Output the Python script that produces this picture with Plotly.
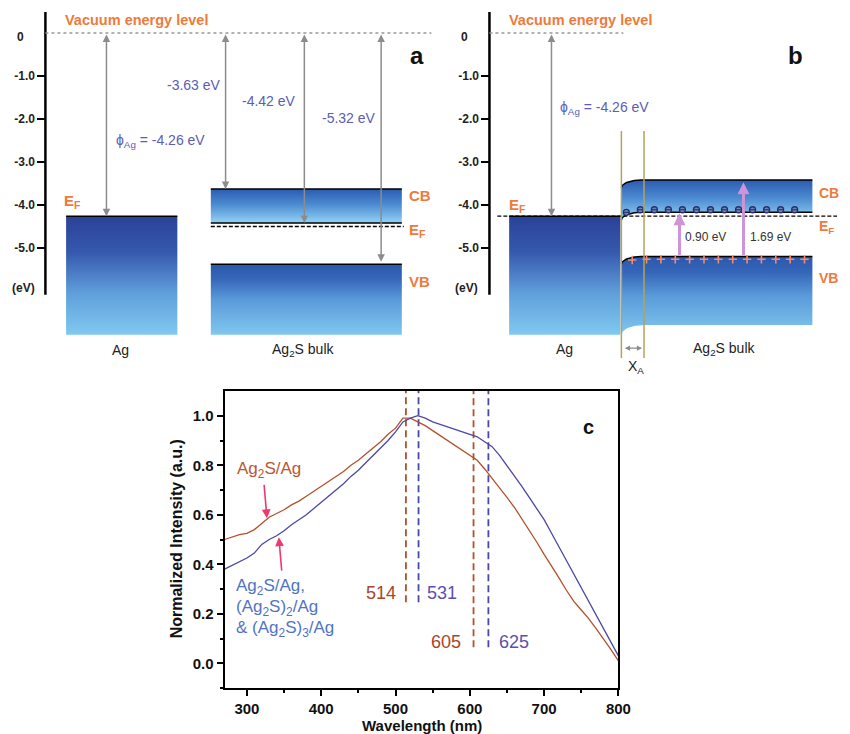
import numpy as np
import plotly.graph_objects as go

# the page body has an 8px margin: the figure is sized to fill the rest of the window
PAGE_OFF = 8
W, H = 850 - PAGE_OFF, 734 - PAGE_OFF
FONT = "Liberation Sans, Arial, Helvetica, sans-serif"

# ---------------- data ----------------
# panel a : energies (eV) relative to the vacuum level
vacuum_level = 0.0
ag_work_function = -4.26
ag2s_cb = -3.63
ag2s_ef = -4.42
ag2s_vb = -5.32
level_labels_a = ["-3.63 eV", "-4.42 eV", "-5.32 eV"]
energy_ticks = [-1.0, -2.0, -3.0, -4.0, -5.0]
energy_tick_text = ["-1.0", "-2.0", "-3.0", "-4.0", "-5.0"]

# panel b : Ag2S band edges after contact with Ag (as drawn)
ag2s_cb_top_b = -3.42
ag2s_cb_edge_b = -4.17
ag2s_vb_edge_b = -5.20
ag2s_bottom_b = -6.79
band_bending = 0.18
gap_labels_b = ["0.90 eV", "1.69 eV"]
gap_arrow_tops_b = [-4.19, -3.47]

# panel c : normalized emission spectra
wavelength = [270, 280, 290, 300, 310, 320, 330, 340, 350, 360, 370, 380, 390,
              400, 410, 420, 430, 440, 450, 460, 470, 480, 490, 500, 510, 520,
              530, 540, 550, 560, 570, 580, 590, 600, 610, 620, 630, 640, 650,
              660, 670, 680, 690, 700, 710, 720, 730, 740, 750, 760, 770, 780,
              790, 800]
ag2s_ag = [0.50, 0.51, 0.52, 0.525, 0.54, 0.565, 0.59, 0.605, 0.62, 0.64,
           0.655, 0.675, 0.695, 0.715, 0.735, 0.755, 0.775, 0.80, 0.82, 0.845,
           0.87, 0.895, 0.925, 0.95, 0.99, 0.99, 0.975, 0.96, 0.94, 0.92,
           0.90, 0.88, 0.86, 0.84, 0.82, 0.785, 0.745, 0.71, 0.67, 0.63,
           0.585, 0.54, 0.49, 0.44, 0.395, 0.345, 0.295, 0.25, 0.215, 0.18,
           0.14, 0.10, 0.055, 0.01]
ag2s_multi = [0.38, 0.395, 0.41, 0.425, 0.445, 0.48, 0.50, 0.515, 0.535, 0.56,
              0.58, 0.60, 0.625, 0.65, 0.675, 0.70, 0.725, 0.755, 0.78, 0.81,
              0.84, 0.87, 0.90, 0.935, 0.975, 0.99, 1.0, 0.99, 0.975, 0.965,
              0.955, 0.945, 0.935, 0.925, 0.915, 0.895, 0.875, 0.84, 0.80, 0.76,
              0.715, 0.67, 0.625, 0.58, 0.525, 0.47, 0.415, 0.36, 0.305, 0.25,
              0.195, 0.14, 0.085, 0.03]
peaks_single = [514, 605]
peaks_multi = [531, 625]
x_ticks_c = [300, 400, 500, 600, 700, 800]

# ---------------- colours ----------------
ORANGE_TXT = "#ee7a3c"
BLUE_TXT = "#5a5db6"
C_SINGLE = "#b4502c"
C_MULTI = "#4b47a6"
GRAY = "#8c8c8c"
PINK = "#ec3a6e"

AG_SCALE = [[0, "#80c9ef"], [0.35, "#609fdb"], [0.7, "#3558ad"], [1, "#2a4298"]]
CB_SCALE = [[0, "#93d3f5"], [0.55, "#4c8bd0"], [1, "#2c5bb1"]]
VB_SCALE = [[0, "#80c8ee"], [0.5, "#5a9ada"], [0.8, "#3566b8"], [1, "#2c58ad"]]


def px(x):
    return (x - PAGE_OFF) / W


def py(y):
    return 1 - (y - PAGE_OFF) / H


# energy axis geometry (panels a & b share it): 0 eV at 33px, 43 px per eV
def energy_at(ypix):
    return -(ypix - 33) / 43


E_TOP = energy_at(PAGE_OFF)
E_BOT = energy_at(372)
BLOCK_BOTTOM = -7.02

fig = go.Figure()


def block(xs, ys, scale):
    fig.add_trace(go.Scatter(x=list(xs), y=list(ys), mode="lines", fill="toself",
                             line=dict(width=0, color="rgba(0,0,0,0)"),
                             fillgradient=dict(type="vertical", colorscale=scale),
                             hoverinfo="skip", showlegend=False,
                             xaxis="x", yaxis="y"))


def rect(x0, x1, e0, e1, scale):
    block([x0, x1, x1, x0, x0], [e0, e0, e1, e1, e0], scale)


def line(xs, ys, color="black", width=1.5, dash=None, axes=("x", "y")):
    fig.add_trace(go.Scatter(x=list(xs), y=list(ys), mode="lines",
                             line=dict(color=color, width=width, dash=dash),
                             hoverinfo="skip", showlegend=False,
                             xaxis=axes[0], yaxis=axes[1]))


def band_curve(e_flat, d, x0=631, x1=825, w=20, n=24):
    th = np.linspace(0, np.pi / 2, n)
    xs = list(x0 + w - w * np.cos(th)) + [x1]
    es = list(e_flat - d + d * np.sin(th)) + [e_flat]
    return np.array(xs), np.array(es)


# ---------------- panel a ----------------
rect(67, 180, BLOCK_BOTTOM, ag_work_function, AG_SCALE)
rect(214, 408, ag2s_ef, ag2s_cb, CB_SCALE)
rect(214, 408, BLOCK_BOTTOM, ag2s_vb - 0.06, VB_SCALE)
line([67, 180], [ag_work_function] * 2)
line([214, 408], [ag2s_cb] * 2)
line([214, 408], [ag2s_ef] * 2)
line([214, 408], [ag2s_vb - 0.06] * 2)
line([214, 410], [ag2s_ef - 0.08] * 2, width=1.3, dash="4px,2px")

# ---------------- panel b ----------------
rect(517, 630, BLOCK_BOTTOM, ag_work_function, AG_SCALE)
xt, et = band_curve(ag2s_cb_top_b, band_bending)
xb, eb = band_curve(ag2s_cb_edge_b, band_bending)
block(np.r_[xt, xb[::-1]], np.r_[et, eb[::-1]], CB_SCALE)
xv, ev = band_curve(ag2s_vb_edge_b, band_bending)
xz, ez = band_curve(ag2s_bottom_b, 0.23, w=24)
block(np.r_[xv, xz[::-1]], np.r_[ev, ez[::-1]], VB_SCALE)
line([517, 630], [ag_work_function] * 2)
line(xt, et)
line(xb, eb)
line(xv, ev)
line([505, 850], [ag_work_function] * 2, width=1.3, dash="4px,2px")

# electrons (CB) and holes (VB)
ex = np.linspace(636, 807, 13)
fig.add_trace(go.Scatter(x=ex, y=np.interp(ex, xb, eb) + 0.06, mode="markers",
                         marker=dict(symbol="circle", size=6, color="#6d86b8",
                                     line=dict(width=1.3, color="#27306a")),
                         hoverinfo="skip", showlegend=False, xaxis="x", yaxis="y"))
fig.add_trace(go.Scatter(x=ex, y=np.interp(ex, xb, eb) + 0.06, mode="markers",
                         marker=dict(symbol="line-ew", size=4, color="#27306a",
                                     line=dict(width=1.1, color="#27306a")),
                         hoverinfo="skip", showlegend=False, xaxis="x", yaxis="y"))
hx = np.linspace(642, 817, 13)
fig.add_trace(go.Scatter(x=hx, y=np.interp(hx, xv, ev) - 0.06, mode="markers",
                         marker=dict(symbol="cross-thin", size=6, color="#f38a72",
                                     line=dict(width=1.6, color="#f38a72")),
                         hoverinfo="skip", showlegend=False, xaxis="x", yaxis="y"))
# dummy trace for the second energy axis
fig.add_trace(go.Scatter(x=[None], y=[None], xaxis="x", yaxis="y2", showlegend=False))

# ---------------- panel c ----------------
for xv_, col in [(p, C_SINGLE) for p in peaks_single] + [(p, C_MULTI) for p in peaks_multi]:
    low = 0.246 if xv_ in (514, 531) else 0.065
    line([xv_, xv_], [low, 1.1], color=col, width=1.8, dash="7px,4px", axes=("x3", "y3"))
fig.add_trace(go.Scatter(x=wavelength, y=ag2s_ag, mode="lines",
                         line=dict(color=C_SINGLE, width=1.3), showlegend=False,
                         xaxis="x3", yaxis="y3"))
fig.add_trace(go.Scatter(x=wavelength, y=ag2s_multi, mode="lines",
                         line=dict(color=C_MULTI, width=1.3), showlegend=False,
                         xaxis="x3", yaxis="y3"))

# ---------------- shapes ----------------
shapes = []
for ax_x in (46, 497):
    shapes.append(dict(type="line", xref="x", yref="y", x0=ax_x, x1=ax_x,
                       y0=0.49, y1=-6.09, line=dict(color="black", width=2.5)))
shapes.append(dict(type="line", xref="x", yref="y", x0=46, x1=438,
                   y0=vacuum_level, y1=vacuum_level,
                   line=dict(color="#999999", width=1.5, dash="dot")))
shapes.append(dict(type="line", xref="x", yref="y", x0=497, x1=633,
                   y0=vacuum_level, y1=vacuum_level,
                   line=dict(color="#999999", width=1.5, dash="dot")))
for ox in (631, 654):
    shapes.append(dict(type="line", xref="x", yref="y", x0=ox, x1=ox,
                       y0=-2.28, y1=-7.56, line=dict(color="#b3a35a", width=1.5),
                       layer="above"))

# ---------------- annotations ----------------
ann = []


def text(x, y, t, size=14, color="#222", xanchor="center", bold=False, ref="paper", **kw):
    if bold:
        t = "<b>" + t + "</b>"
    if ref == "paper":
        ann.append(dict(x=px(x), y=py(y), xref="paper", yref="paper", text=t,
                        showarrow=False, xanchor=xanchor, yanchor="middle",
                        font=dict(family=FONT, size=size, color=color), **kw))
    else:
        ann.append(dict(x=x, y=y, xref=ref[0], yref=ref[1], text=t,
                        showarrow=False, xanchor=xanchor, yanchor="middle",
                        font=dict(family=FONT, size=size, color=color), **kw))


def arrow(x, y, ax, ay, ref=("x", "y"), color=GRAY, width=1.5, both=True, size=1.0):
    ann.append(dict(x=x, y=y, ax=ax, ay=ay, xref=ref[0], yref=ref[1],
                    axref=ref[0], ayref=ref[1], text="", showarrow=True,
                    arrowhead=2, startarrowhead=2, arrowsize=size,
                    startarrowsize=size, arrowwidth=width, arrowcolor=color,
                    arrowside="end+start" if both else "end"))


# panel a arrows
for ax_x, lvl in zip([108, 229, 309, 387],
                     [ag_work_function, ag2s_cb, ag2s_ef, ag2s_vb]):
    arrow(ax_x, lvl, ax_x, vacuum_level)
# panel b arrows
arrow(560, ag_work_function, 560, vacuum_level)
for gx, top in zip([690, 755], gap_arrow_tops_b):
    arrow(gx, top, gx, ag2s_vb_edge_b, color="#cf93d8", width=3, both=False, size=0.8)
arrow(652, -7.33, 633, -7.33, width=1.3, size=0.8)

# axis text
for ox in (21, 472):
    text(ox, 37, "0", size=12, bold=True)
for ox in (24, 474):
    text(ox, 288, "(eV)", size=12, bold=True)

# panel a text
text(64, 20, "Vacuum energy level", size=14.5, color=ORANGE_TXT, xanchor="left", bold=True)
text(63, 202, "E<sub>F</sub>", size=15, color=ORANGE_TXT, xanchor="left", bold=True)
text(413, 195, "CB", size=15, color=ORANGE_TXT, xanchor="left", bold=True)
text(413, 230, "E<sub>F</sub>", size=15, color=ORANGE_TXT, xanchor="left", bold=True)
text(413, 281, "VB", size=15, color=ORANGE_TXT, xanchor="left", bold=True)
text(423, 55, "a", size=24, color="#111", bold=True)
text(197, 85, level_labels_a[0], size=14, color=BLUE_TXT)
text(273, 101, level_labels_a[1], size=14, color=BLUE_TXT)
text(354, 118, level_labels_a[2], size=14, color=BLUE_TXT)
text(116, 141, "ϕ<sub>Ag</sub> = %.2f eV" % ag_work_function, size=14, color=BLUE_TXT, xanchor="left")
text(122, 350, "Ag", size=14)
text(308, 350, "Ag<sub>2</sub>S bulk", size=14)

# panel b text
text(515, 20, "Vacuum energy level", size=14.5, color=ORANGE_TXT, xanchor="left", bold=True)
text(515, 205, "E<sub>F</sub>", size=15, color=ORANGE_TXT, xanchor="left", bold=True)
text(830, 193, "CB", size=14, color=ORANGE_TXT, xanchor="left", bold=True)
text(830, 227, "E<sub>F</sub>", size=14, color=ORANGE_TXT, xanchor="left", bold=True)
text(830, 278, "VB", size=14, color=ORANGE_TXT, xanchor="left", bold=True)
text(808, 55, "b", size=24, color="#111", bold=True)
text(567, 108, "ϕ<sub>Ag</sub> = %.2f eV" % ag_work_function, size=14, color=BLUE_TXT, xanchor="left")
text(716, 237, gap_labels_b[0], size=12, color="#333")
text(782, 237, gap_labels_b[1], size=12, color="#333")
text(573, 349, "Ag", size=14)
text(735, 349, "Ag<sub>2</sub>S bulk", size=14)
text(646, 367, "X<sub>A</sub>", size=14)

# panel c text
C3 = ("x3", "y3")
text(330, 0.78, "Ag<sub>2</sub>S/Ag", size=17, color="#bd5530", ref=C3)
text(283, 0.307, "Ag<sub>2</sub>S/Ag,", size=17, color="#4f74c4", xanchor="left", ref=C3)
text(283, 0.222, "(Ag<sub>2</sub>S)<sub>2</sub>/Ag", size=17, color="#4f74c4", xanchor="left", ref=C3)
text(283, 0.14, "&amp; (Ag<sub>2</sub>S)<sub>3</sub>/Ag", size=17, color="#4f74c4", xanchor="left", ref=C3)
text(504, 0.283, str(peaks_single[0]), size=18, color="#a8452a", xanchor="right", ref=C3)
text(540, 0.283, str(peaks_multi[0]), size=18, color="#5a50b0", xanchor="left", ref=C3)
text(591, 0.085, str(peaks_single[1]), size=18, color="#a8452a", xanchor="right", ref=C3)
text(637, 0.085, str(peaks_multi[1]), size=18, color="#5a50b0", xanchor="left", ref=C3)
text(760, 0.954, "c", size=20, color="#111", bold=True, ref=C3)
text(428, 725, "Wavelength (nm)", size=15, color="#111", bold=True)
text(179, 539, "Normalized Intensity (a.u.)", size=16, color="#111", bold=True, textangle=-90)
arrow(327, 0.586, 323, 0.727, ref=C3, color=PINK, width=1.6, both=False, size=1.1)
arrow(343, 0.509, 347, 0.368, ref=C3, color=PINK, width=1.6, both=False, size=1.1)

energy_axis = dict(range=[E_BOT, E_TOP], anchor="free", tickmode="array",
                   tickvals=energy_ticks, ticktext=energy_tick_text,
                   ticks="outside", ticklen=8, tickwidth=2, tickcolor="black",
                   showline=False, showgrid=False, zeroline=False,
                   tickfont=dict(family=FONT, size=12, color="#222", weight="bold"),
                   fixedrange=True)

fig.update_layout(
    width=W, height=H, margin=dict(l=0, r=0, t=0, b=0),
    paper_bgcolor="white", plot_bgcolor="rgba(0,0,0,0)",
    showlegend=False,
    xaxis=dict(domain=[0, 1], range=[PAGE_OFF, 850], visible=False, fixedrange=True),
    yaxis=dict(domain=[py(372), 1], position=px(46), **energy_axis),
    yaxis2=dict(overlaying="y", position=px(497), **energy_axis),
    xaxis3=dict(domain=[px(228), px(628)], anchor="y3", range=[270, 800],
                tickmode="array", tickvals=x_ticks_c,
                ticks="outside", ticklen=6, tickwidth=1.5, tickcolor="black",
                showline=True, mirror=True, linewidth=2, linecolor="black",
                showgrid=False, zeroline=False,
                minor=dict(ticks="outside", ticklen=3, tickwidth=1.5, tickcolor="black",
                           tickmode="array", tickvals=[350, 450, 550, 650, 750]),
                tickfont=dict(family=FONT, size=15, color="#111", weight="bold")),
    yaxis3=dict(domain=[py(688), py(391)], anchor="x3", range=[-0.1, 1.1],
                tickmode="array", tickvals=[0, 0.2, 0.4, 0.6, 0.8, 1.0],
                ticktext=["0.0", "0.2", "0.4", "0.6", "0.8", "1.0"],
                ticks="outside", ticklen=6, tickwidth=1.5, tickcolor="black",
                showline=True, mirror=True, linewidth=2, linecolor="black",
                showgrid=False, zeroline=False,
                minor=dict(ticks="outside", ticklen=3, tickwidth=1.5, tickcolor="black",
                           tickmode="array", tickvals=[-0.1, 0.1, 0.3, 0.5, 0.7, 0.9]),
                tickfont=dict(family=FONT, size=15, color="#111", weight="bold")),
    shapes=shapes,
    annotations=ann,
)

fig.write_html("out.html")
